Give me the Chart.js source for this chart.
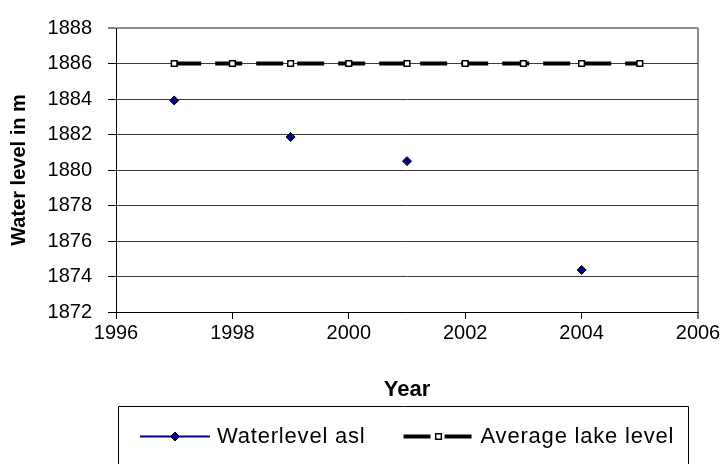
<!DOCTYPE html>
<html>
<head>
<meta charset="utf-8">
<title>Water level</title>
<script src="https://cdn.jsdelivr.net/npm/chart.js@4/dist/chart.umd.min.js"></script>
<style>
  html, body { margin: 0; padding: 0; background: #ffffff; }
  #wrap { width: 725px; height: 464px; }
</style>
</head>
<body>
<div id="wrap"><canvas id="chart" width="725" height="464"></canvas></div>
<script>
// Measured water level above sea level (m)
const measuredYears = [1997, 1999, 2001, 2004];
const waterlevelAsl = [1883.92, 1881.86, 1880.5, 1874.37];

// Long-term average lake level (m)
const averageYears = [1997, 1998, 1999, 2000, 2001, 2002, 2003, 2004, 2005];
const averageLakeLevel = [1886, 1886, 1886, 1886, 1886, 1886, 1886, 1886, 1886];

// Axis tick labels
const xTicks = [1996, 1998, 2000, 2002, 2004, 2006];
const yTicks = [1872, 1874, 1876, 1878, 1880, 1882, 1884, 1886, 1888];

const FONT = "'Liberation Sans', Arial, Helvetica, sans-serif";

// Boxed legend below the x-axis title; each entry shows its line with the marker in the middle
const boxedLegend = {
  id: 'boxedLegend',
  afterDraw(chart) {
    const ctx = chart.ctx;
    const box = { left: 118.5, top: 406.5, right: 688.5 };
    ctx.save();
    ctx.strokeStyle = '#000';
    ctx.lineWidth = 1;
    ctx.beginPath();
    ctx.moveTo(box.left, 470);
    ctx.lineTo(box.left, box.top);
    ctx.lineTo(box.right, box.top);
    ctx.lineTo(box.right, 470);
    ctx.stroke();

    ctx.font = '22px ' + FONT;
    if ('letterSpacing' in ctx) ctx.letterSpacing = '0.8px';
    ctx.textBaseline = 'middle';
    ctx.fillStyle = '#000';

    const sampleW = 70, textGap = 7, itemGap = 38;
    const items = chart.data.datasets.map(ds => ({ ds, w: ctx.measureText(ds.label).width }));
    const total = items.reduce((s, it) => s + sampleW + textGap + it.w, 0) + itemGap * (items.length - 1);
    let x = Math.round((box.left + box.right) / 2 - total / 2 + 4);
    const y = 436.5;

    items.forEach(({ ds, w }) => {
      // line sample
      ctx.save();
      ctx.strokeStyle = ds.borderColor;
      ctx.lineWidth = ds.legendLineWidth || ds.borderWidth;
      ctx.lineCap = 'butt';
      ctx.setLineDash(ds.borderDash || []);
      ctx.beginPath();
      ctx.moveTo(x, y);
      ctx.lineTo(x + sampleW, y);
      ctx.stroke();
      ctx.restore();
      // marker
      ctx.save();
      ctx.fillStyle = ds.pointBackgroundColor;
      ctx.strokeStyle = ds.pointBorderColor;
      ctx.lineWidth = ds.pointBorderWidth;
      Chart.helpers.drawPoint(ctx, {
        pointStyle: ds.pointStyle,
        radius: ds.pointRadius,
        rotation: 0,
        borderWidth: ds.pointBorderWidth
      }, x + sampleW / 2, y);
      ctx.restore();
      // label
      ctx.fillText(ds.label, x + sampleW + textGap, y);
      x += sampleW + textGap + w + itemGap;
    });
    ctx.restore();
  }
};

new Chart(document.getElementById('chart'), {
  type: 'scatter',
  data: {
    datasets: [
      {
        label: 'Waterlevel asl',
        data: measuredYears.map((yr, i) => ({ x: yr, y: waterlevelAsl[i] })),
        showLine: false,
        borderColor: '#000080',
        borderWidth: 1,
        legendLineWidth: 2,
        pointStyle: 'rectRot',
        pointRadius: 4.5,
        pointBackgroundColor: '#000080',
        pointBorderColor: '#000000',
        pointBorderWidth: 1
      },
      {
        label: 'Average lake level',
        data: averageYears.map((yr, i) => ({ x: yr, y: averageLakeLevel[i] })),
        showLine: true,
        borderColor: '#000000',
        borderWidth: 4,
        borderDash: [27, 14],
        borderCapStyle: 'butt',
        tension: 0,
        pointStyle: 'rect',
        pointRadius: 4,
        pointBackgroundColor: '#ffffff',
        pointBorderColor: '#000000',
        pointBorderWidth: 1.5
      }
    ]
  },
  options: {
    responsive: false,
    devicePixelRatio: 1,
    animation: false,
    layout: { padding: { top: 22, right: 27, left: 0, bottom: 0 } },
    plugins: {
      legend: { display: false },
      tooltip: { enabled: false }
    },
    scales: {
      x: {
        type: 'linear',
        min: xTicks[0],
        max: xTicks[xTicks.length - 1],
        afterBuildTicks: s => { s.ticks = xTicks.map(v => ({ value: v })); },
        afterFit: s => { s.height = 152; },
        border: { color: '#000000', width: 1 },
        grid: {
          drawOnChartArea: true,
          color: c => (c.tick && c.tick.value === xTicks[xTicks.length - 1]) ? '#8c8c8c' : 'rgba(0,0,0,0)',
          lineWidth: c => (c.tick && c.tick.value === xTicks[xTicks.length - 1]) ? 2 : 1,
          tickColor: '#000000',
          tickWidth: 1,
          tickLength: 7
        },
        ticks: {
          color: '#000000',
          font: { family: FONT, size: 20 },
          padding: 2,
          maxRotation: 0,
          callback: v => String(v)
        },
        title: {
          display: true,
          text: 'Year',
          color: '#000000',
          font: { family: FONT, size: 22, weight: 'bold' },
          padding: { top: 0, bottom: 61 }
        }
      },
      y: {
        type: 'linear',
        min: yTicks[0],
        max: yTicks[yTicks.length - 1],
        afterBuildTicks: s => { s.ticks = yTicks.map(v => ({ value: v })); },
        afterFit: s => { s.width = 116; },
        border: { color: '#000000', width: 1 },
        grid: {
          color: c => (c.tick && c.tick.value === yTicks[yTicks.length - 1]) ? '#8c8c8c' : '#3a3a3a',
          lineWidth: c => (c.tick && c.tick.value === yTicks[yTicks.length - 1]) ? 2 : 1,
          tickColor: '#000000',
          tickWidth: 1,
          tickLength: 8
        },
        ticks: {
          color: '#000000',
          font: { family: FONT, size: 20 },
          padding: 16,
          callback: v => String(v)
        },
        title: {
          display: true,
          text: 'Water level in m',
          color: '#000000',
          font: { family: FONT, size: 20, weight: 'bold' },
          padding: { top: 7, bottom: 0 }
        }
      }
    }
  },
  plugins: [boxedLegend]
});
</script>
</body>
</html>
